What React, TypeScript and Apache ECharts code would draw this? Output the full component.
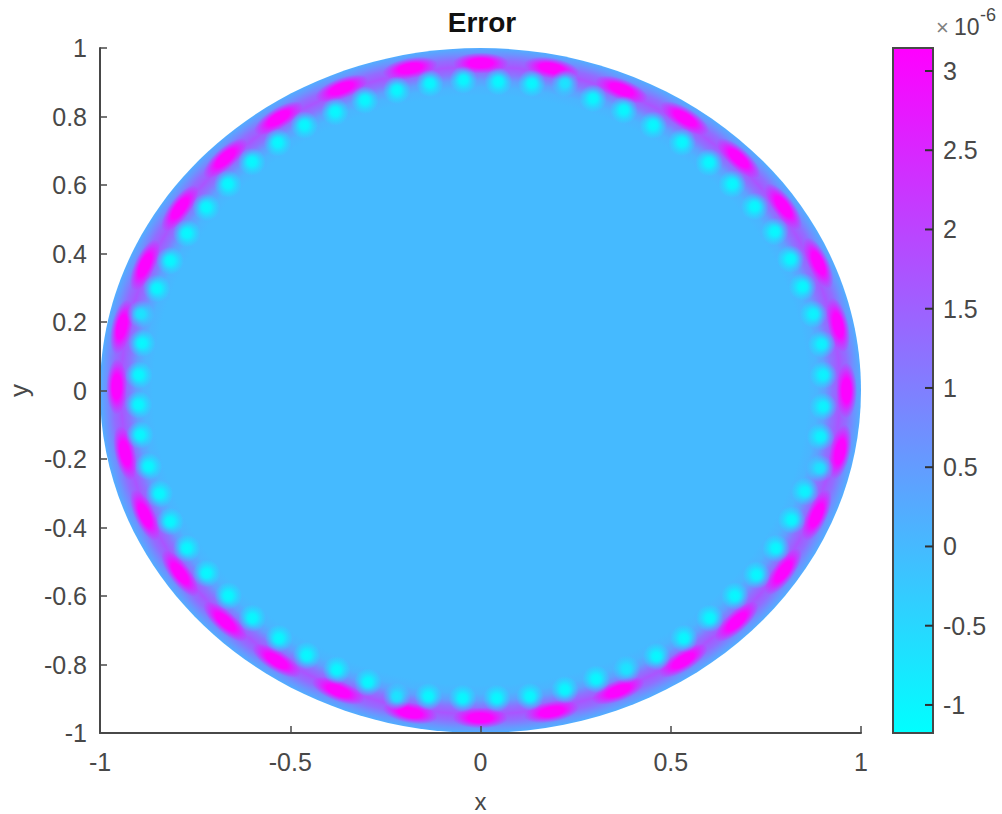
import React, { useEffect, useRef } from "react";
import * as echarts from "echarts";

const titleText = "Error";
const xName = "x";
const yName = "y";
const xTicks = [-1, -0.5, 0, 0.5, 1];
const yTicks = [-1, -0.8, -0.6, -0.4, -0.2, 0, 0.2, 0.4, 0.6, 0.8, 1];
const colorMin = -1.177;
const colorMax = 3.145;
const colorTicks = [-1, -0.5, 0, 0.5, 1, 1.5, 2, 2.5, 3];

// radial error profile near the boundary: radius, value (×1e-6)
const ringRadius = [0, 0.86, 0.885, 0.905, 0.925, 0.945, 0.965, 0.985, 1];
const ringValue = [0, 0, 0.1, 0.45, 1.2, 1.7, 1.3, 0.6, 0.2];

// x, y, value (×1e-6) of the hot spots along the rim
const hotSpots: number[][] = [
  [0.001, 0.956, 3.1], [-0.185, 0.941, 3.1], [-0.365, 0.882, 3.1], [-0.531, 0.795, 3.1],
  [-0.671, 0.678, 3.1], [-0.79, 0.532, 3.1], [-0.882, 0.366, 3.1], [-0.943, 0.186, 3.1],
  [-0.956, 0.011, 3.1], [-0.934, -0.183, 3.1], [-0.882, -0.364, 3.1], [-0.79, -0.534, 3.1],
  [-0.671, -0.675, 3.1], [-0.536, -0.789, 3.1], [-0.374, -0.877, 3.1], [-0.185, -0.941, 3.1],
  [-0.001, -0.956, 3.1], [0.187, -0.938, 3.1], [0.362, -0.877, 3.1], [0.533, -0.789, 3.1],
  [0.673, -0.675, 3.1], [0.796, -0.529, 3.1], [0.884, -0.364, 3.1], [0.945, -0.179, 3.1],
  [0.962, 0, 3.1], [0.94, 0.191, 3.1], [0.888, 0.372, 3.1], [0.796, 0.537, 3.1],
  [0.678, 0.678, 3.1], [0.537, 0.795, 3.1], [0.371, 0.879, 3.1], [0.187, 0.941, 3.1],
];

// x, y, value (×1e-6) of the cold spots just inside the rim
const coldSpots: number[][] = [
  [-0.045, 0.907, -1.1], [-0.133, 0.897, -1.1], [-0.22, 0.877, -1.1], [-0.304, 0.848, -1.1],
  [-0.382, 0.814, -1.1], [-0.463, 0.775, -1.1], [-0.533, 0.724, -1.1], [-0.601, 0.668, -1.1],
  [-0.664, 0.603, -1.1], [-0.721, 0.535, -1.1], [-0.772, 0.459, -1.1], [-0.816, 0.379, -1.1],
  [-0.851, 0.298, -1.1], [-0.893, 0.223, -0.75], [-0.89, 0.138, -1.1], [-0.898, 0.045, -1.1],
  [-0.899, -0.042, -1.1], [-0.895, -0.13, -1.1], [-0.873, -0.222, -1.1], [-0.844, -0.302, -1.1],
  [-0.816, -0.383, -1.1], [-0.772, -0.461, -1.1], [-0.72, -0.534, -1.1], [-0.663, -0.6, -1.1],
  [-0.6, -0.665, -1.1], [-0.53, -0.724, -1.1], [-0.457, -0.774, -1.1], [-0.378, -0.816, -1.1],
  [-0.296, -0.852, -1.1], [-0.22, -0.894, -0.75], [-0.137, -0.894, -1.1], [-0.047, -0.899, -1.1],
  [0.043, -0.899, -1.1], [0.13, -0.894, -1.1], [0.222, -0.874, -1.1], [0.304, -0.843, -1.1],
  [0.384, -0.814, -0.75], [0.463, -0.777, -1.1], [0.535, -0.724, -1.1], [0.603, -0.665, -1.1],
  [0.669, -0.6, -1.1], [0.726, -0.539, -1.1], [0.777, -0.461, -1.1], [0.818, -0.378, -1.1],
  [0.853, -0.295, -1.0], [0.892, -0.227, -0.75], [0.894, -0.135, -1.0], [0.901, -0.047, -1.0],
  [0.901, 0.045, -1.0], [0.897, 0.135, -1.0], [0.875, 0.223, -1.0], [0.847, 0.303, -1.1],
  [0.815, 0.384, -1.1], [0.774, 0.464, -1.1], [0.721, 0.537, -1.1], [0.662, 0.603, -1.1],
  [0.601, 0.666, -1.1], [0.53, 0.725, -1.1], [0.454, 0.775, -1.1], [0.377, 0.819, -1.1],
  [0.296, 0.853, -1.1], [0.222, 0.897, -0.75], [0.135, 0.897, -1.1], [0.047, 0.902, -1.1],
];

const FONT = "'Liberation Sans', Arial, sans-serif";
const INK = "#484848";

function cool(v: number, a = 1): string {
  const t = Math.min(1, Math.max(0, (v - colorMin) / (colorMax - colorMin)));
  return `rgba(${Math.round(t * 255)},${Math.round((1 - t) * 255)},255,${a})`;
}

function spotFill(v: number, alpha: number[][]) {
  return {
    type: "radial",
    x: 0.5,
    y: 0.5,
    r: 0.5,
    colorStops: alpha.map(([offset, a]) => ({ offset, color: cool(v, a) })),
  };
}

const hotFalloff = [[0, 1], [0.42, 1], [0.72, 0.45], [1, 0]];
const coldFalloff = [[0, 1], [0.3, 0.9], [0.65, 0.4], [1, 0]];

export default function App() {
  const ref = useRef<HTMLDivElement>(null);
  useEffect(() => {
    const chart = echarts.init(ref.current!, null, { renderer: "svg" });
    const axisBase = {
      axisLine: { show: true, onZero: false, lineStyle: { color: INK, width: 2 } },
      axisTick: { show: true, inside: true, length: 7, lineStyle: { color: INK, width: 1.5 } },
      splitLine: { show: false },
      z: 5,
    };
    const labelBase = { color: INK, fontSize: 25, fontFamily: FONT };
    chart.setOption({
      animation: false,
      backgroundColor: "#ffffff",
      title: {
        text: titleText,
        left: 477,
        top: 3,
        textAlign: "center",
        textStyle: { color: "#111", fontSize: 28, fontWeight: "bold", fontFamily: FONT },
      },
      grid: [
        { left: 100, top: 48, width: 761, height: 685, outerBoundsMode: "none" },
        { left: 893, top: 48, width: 40, height: 685, outerBoundsMode: "none" },
      ],
      xAxis: [
        {
          ...axisBase,
          type: "value",
          gridIndex: 0,
          min: -1,
          max: 1,
          interval: 0.5,
          name: xName,
          nameLocation: "middle",
          nameGap: 56,
          nameTextStyle: { ...labelBase, fontSize: 24 },
          axisLabel: {
            ...labelBase,
            margin: 16,
            showMinLabel: true,
            showMaxLabel: true,
            customValues: xTicks,
          },
        },
        {
          type: "value",
          gridIndex: 1,
          min: 0,
          max: 1,
          show: false,
        },
      ],
      yAxis: [
        {
          ...axisBase,
          type: "value",
          gridIndex: 0,
          min: -1,
          max: 1,
          interval: 0.2,
          name: yName,
          nameLocation: "middle",
          nameGap: 68,
          nameTextStyle: { ...labelBase, fontSize: 26 },
          axisLabel: { ...labelBase, margin: 13, customValues: yTicks },
        },
        {
          type: "value",
          gridIndex: 1,
          position: "right",
          min: colorMin,
          max: colorMax,
          splitLine: { show: false },
          axisLine: { show: false, onZero: false },
          axisTick: { show: false },
          axisLabel: { ...labelBase, margin: 10, customValues: colorTicks },
        },
      ],
      graphic: [
        {
          type: "text",
          x: 936,
          y: 16,
          z: 10,
          style: { text: "×", fill: "#808080", fontSize: 22, fontFamily: FONT },
        },
        {
          type: "text",
          x: 954,
          y: 15,
          z: 10,
          style: { text: "10", fill: INK, fontSize: 23, fontFamily: FONT },
        },
        {
          type: "text",
          x: 980,
          y: 6,
          z: 10,
          style: { text: "-6", fill: INK, fontSize: 18, fontFamily: FONT },
        },
      ],
      series: [
        {
          type: "custom",
          coordinateSystem: "cartesian2d",
          xAxisIndex: 0,
          yAxisIndex: 0,
          data: [[0, 0]],
          renderItem: (_: unknown, api: any) => {
            const c = api.coord([api.value(0), api.value(1)]);
            const s = api.size([1, 1]);
            return {
              type: "ellipse",
              shape: { cx: c[0], cy: c[1], rx: s[0], ry: s[1] },
              style: {
                fill: {
                  type: "radial",
                  x: 0.5,
                  y: 0.5,
                  r: 0.5,
                  colorStops: ringRadius.map((r, i) => ({ offset: r, color: cool(ringValue[i]) })),
                },
              },
            };
          },
        },
        {
          type: "custom",
          coordinateSystem: "cartesian2d",
          xAxisIndex: 0,
          yAxisIndex: 0,
          data: hotSpots,
          renderItem: (_: unknown, api: any) => {
            const x = api.value(0);
            const y = api.value(1);
            const c = api.coord([x, y]);
            const s = api.size([1, 1]);
            return {
              type: "ellipse",
              x: c[0],
              y: c[1],
              rotation: Math.atan2(s[1] * x, -s[0] * y),
              shape: { cx: 0, cy: 0, rx: 28, ry: 10.5 },
              style: { fill: spotFill(api.value(2), hotFalloff) },
            };
          },
        },
        {
          type: "custom",
          coordinateSystem: "cartesian2d",
          xAxisIndex: 0,
          yAxisIndex: 0,
          data: coldSpots,
          renderItem: (_: unknown, api: any) => {
            const c = api.coord([api.value(0), api.value(1)]);
            return {
              type: "ellipse",
              shape: { cx: c[0], cy: c[1], rx: 14, ry: 14 },
              style: { fill: spotFill(api.value(2), coldFalloff) },
            };
          },
        },
        {
          type: "custom",
          coordinateSystem: "cartesian2d",
          xAxisIndex: 1,
          yAxisIndex: 1,
          data: [[0, colorMin, 1, colorMax]],
          renderItem: (_: unknown, api: any) => {
            const a = api.coord([api.value(0), api.value(3)]);
            const b = api.coord([api.value(2), api.value(1)]);
            return {
              type: "group",
              children: [
                {
                  type: "rect",
                  shape: { x: a[0], y: a[1], width: b[0] - a[0], height: b[1] - a[1] },
                  style: {
                    stroke: INK,
                    lineWidth: 2,
                    fill: {
                      type: "linear",
                      x: 0,
                      y: 0,
                      x2: 0,
                      y2: 1,
                      colorStops: [
                        { offset: 0, color: cool(colorMax) },
                        { offset: 1, color: cool(colorMin) },
                      ],
                    },
                  },
                },
                ...colorTicks.map((v) => {
                  const c = api.coord([api.value(2), v]);
                  return {
                    type: "rect",
                    z2: 10,
                    shape: { x: c[0] - 8, y: c[1] - 1, width: 8, height: 2 },
                    style: { fill: "#303030" },
                  };
                }),
              ],
            };
          },
        },
      ],
    });
    return () => chart.dispose();
  }, []);
  return (
    <div
      ref={ref}
      style={{ position: "fixed", left: 0, top: 0, width: 1002, height: 814 }}
    />
  );
}
